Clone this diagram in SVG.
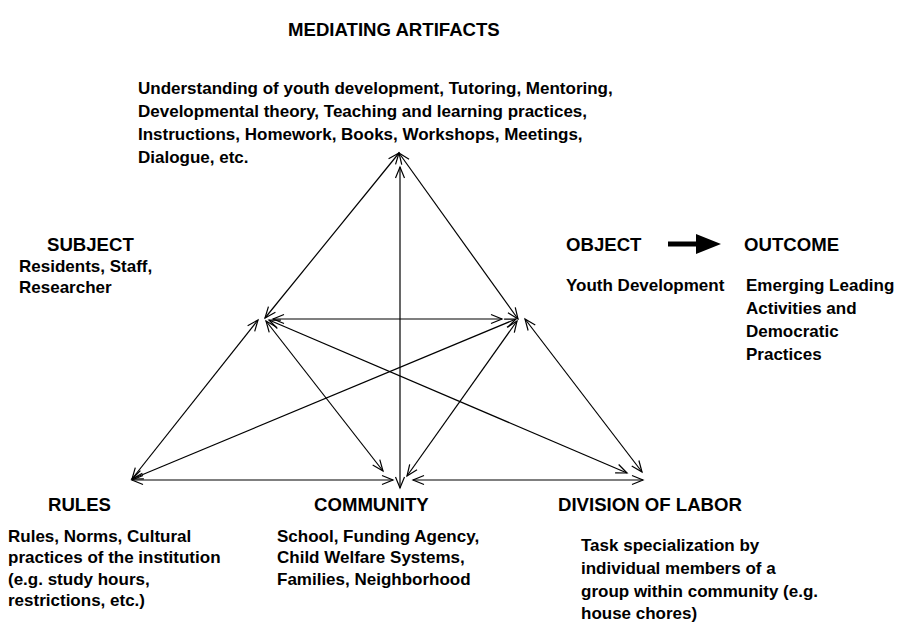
<svg xmlns="http://www.w3.org/2000/svg" width="897" height="625" viewBox="0 0 897 625">
  <style>
    text { font-family: "Liberation Sans", Arial, sans-serif; font-weight: bold; font-size: 17px; fill: #000; }
    text.head { font-size: 18.6px; }
    .edge { stroke: #000; stroke-width: 1.2; fill: none; marker-start: url(#tip); marker-end: url(#tip); }
  </style>
  <defs>
    <marker id="tip" markerUnits="userSpaceOnUse" markerWidth="16" markerHeight="12" viewBox="-12 -6 14 12" refX="0" refY="0" orient="auto-start-reverse" overflow="visible">
      <path d="M-11,-4.5 L0,0 L-11,4.5" fill="none" stroke="#000" stroke-width="1.2"/>
    </marker>
  </defs>

  <rect width="897" height="625" fill="#fff"/>

  <!-- connectors between the six corners of the activity system -->
  <g id="connectors">
    <line class="edge" x1="265" y1="318" x2="399" y2="153"/>
    <line class="edge" x1="518" y1="319" x2="399" y2="153"/>
    <line class="edge" x1="400" y1="488" x2="400" y2="167"/>
    <line class="edge" x1="273" y1="319" x2="502" y2="319"/>
    <line class="edge" x1="258" y1="320" x2="132" y2="479"/>
    <line class="edge" x1="266" y1="321" x2="383" y2="471"/>
    <line class="edge" x1="269" y1="320" x2="627" y2="473"/>
    <line class="edge" x1="516" y1="319" x2="132" y2="479"/>
    <line class="edge" x1="517" y1="321" x2="407" y2="476"/>
    <line class="edge" x1="525" y1="319" x2="642" y2="472"/>
    <line class="edge" x1="132" y1="480" x2="393" y2="480"/>
    <line class="edge" x1="413" y1="480" x2="643" y2="480"/>
  </g>

  <g id="mediating-artifacts">
    <text class="head" x="288" y="36">MEDIATING ARTIFACTS</text>
    <text x="138" y="94">Understanding of youth development, Tutoring, Mentoring,</text>
    <text x="138" y="117">Developmental theory, Teaching and learning practices,</text>
    <text x="138" y="140">Instructions, Homework, Books, Workshops, Meetings,</text>
    <text x="138" y="163">Dialogue, etc.</text>
  </g>

  <g id="subject">
    <text class="head" x="47" y="251">SUBJECT</text>
    <text x="19" y="272">Residents, Staff,</text>
    <text x="19" y="293">Researcher</text>
  </g>

  <g id="object">
    <text class="head" x="566" y="251">OBJECT</text>
    <text x="566" y="291">Youth Development</text>
  </g>

  <g id="object-to-outcome">
    <rect x="668" y="241.5" width="30" height="5"/>
    <polygon points="696,234 721,244 696,254"/>
  </g>

  <g id="outcome">
    <text class="head" x="744" y="251">OUTCOME</text>
    <text x="746" y="291">Emerging Leading</text>
    <text x="746" y="314">Activities and</text>
    <text x="746" y="337">Democratic</text>
    <text x="746" y="360">Practices</text>
  </g>

  <g id="rules">
    <text class="head" x="48" y="511">RULES</text>
    <text x="8" y="542">Rules, Norms, Cultural</text>
    <text x="8" y="563">practices of the institution</text>
    <text x="8" y="585">(e.g. study hours,</text>
    <text x="8" y="606">restrictions, etc.)</text>
  </g>

  <g id="community">
    <text class="head" x="314" y="511">COMMUNITY</text>
    <text x="277" y="542">School, Funding Agency,</text>
    <text x="277" y="563">Child Welfare Systems,</text>
    <text x="277" y="585">Families, Neighborhood</text>
  </g>

  <g id="division-of-labor">
    <text class="head" x="558" y="511">DIVISION OF LABOR</text>
    <text x="581" y="551">Task specialization by</text>
    <text x="581" y="574">individual members of a</text>
    <text x="581" y="597">group within community (e.g.</text>
    <text x="581" y="619">house chores)</text>
  </g>
</svg>
